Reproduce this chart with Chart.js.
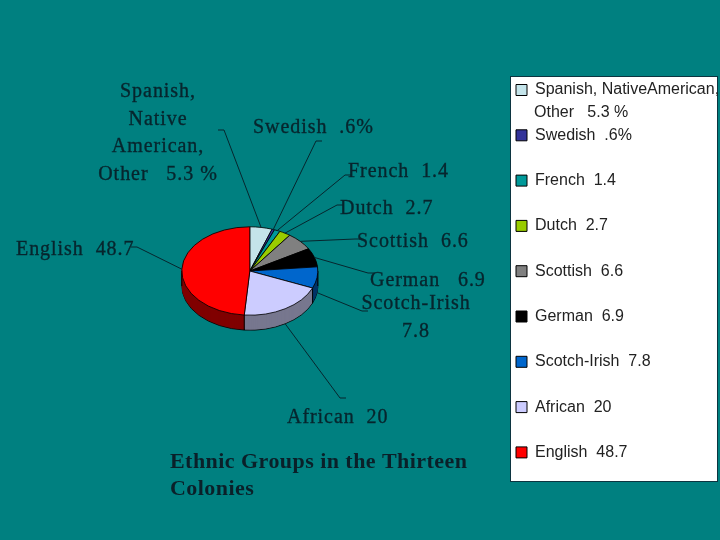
<!DOCTYPE html>
<html>
<head>
<meta charset="utf-8">
<title>Ethnic Groups in the Thirteen Colonies</title>
<script src="https://cdn.jsdelivr.net/npm/chart.js@4"></script>
<style>
  html, body { margin: 0; padding: 0; background: #008080; }
  canvas { display: block; }
</style>
</head>
<body>
<canvas id="myChart" width="720" height="540"></canvas>
<script>
// data
const categories = ['Spanish, NativeAmerican,', 'Swedish  .6%', 'French  1.4', 'Dutch  2.7', 'Scottish  6.6', 'German  6.9', 'Scotch-Irish  7.8', 'African  20', 'English  48.7'];
const legendExtraLine = 'Other   5.3 %';
const values = [5.3, 0.6, 1.4, 2.7, 6.6, 6.9, 7.8, 20, 48.7];
const colors = ['#c4e4ea', '#333399', '#009999', '#99cc00', '#808080', '#000000', '#0066cc', '#ccccff', '#ff0000'];
const sideColors = ['#62727a', '#1a1a4d', '#004d4d', '#4d6600', '#404040', '#000000', '#003366', '#77778f', '#800000'];

// callout texts: lines, x, first baseline, alignment, elbow point of the leader
const calloutLines = [['Spanish,', 'Native', 'American,', 'Other   5.3 %'], ['Swedish  .6%'], ['French  1.4'], ['Dutch  2.7'], ['Scottish  6.6'], ['German   6.9'], ['Scotch-Irish', '7.8'], ['African  20'], ['English  48.7']];
const calloutX = [158, 253, 348, 340, 357, 370, 416, 287, 16];
const calloutY = [97, 133, 177, 214, 247, 286, 309, 423, 255];
const calloutAlign = ['center', 'left', 'left', 'left', 'left', 'left', 'center', 'left', 'left'];
const leaderEnds = [[224, 130], [316, 141], [345, 175], [337, 205], [355, 239], [368, 273], [362, 311], [340, 398], [137, 247]];

const titleLines = ['Ethnic Groups in the Thirteen', 'Colonies'];

const squash = 0.65;
const depth = 15;
const inkColor = '#07252d';

const applySquash = (ctx, arc) => {
    ctx.translate(arc.x, arc.y);
    ctx.scale(1, squash);
    ctx.translate(-arc.x, -arc.y);
};

const pie3d = {
    id: 'pie3d',
    afterLayout(chart) {
        // pin the legend where the white panel is
        const legend = chart.legend;
        const pad = legend.options.labels.padding;
        legend.left = 516 - pad;
        legend.right = legend.left + legend.width;
        legend.top = 82 - pad;
        legend.bottom = legend.top + legend.height;
    },
    beforeDraw(chart) {
        const ctx = chart.ctx;
        ctx.save();
        ctx.fillStyle = '#ffffff';
        ctx.strokeStyle = '#0c3440';
        ctx.lineWidth = 1;
        ctx.fillRect(510, 76, 207, 405);
        ctx.strokeRect(510.5, 76.5, 207, 405);
        ctx.restore();
    },
    beforeDatasetsDraw(chart) {
        const ctx = chart.ctx;
        const arcs = chart.getDatasetMeta(0).data;
        const first = arcs[0];

        // side wall: same arcs stacked downwards in a darker colour
        ctx.save();
        applySquash(ctx, first);
        for (let d = depth; d > 0; d--) {
            ctx.save();
            ctx.translate(0, d / squash);
            arcs.forEach((arc, i) => {
                const saved = arc.options;
                arc.options = Object.assign({}, saved, {
                    backgroundColor: sideColors[i],
                    borderColor: d === depth ? '#000000' : sideColors[i],
                    borderWidth: d === depth ? 1 : 0.5
                });
                arc.draw(ctx);
                arc.options = saved;
            });
            ctx.restore();
        }
        ctx.restore();

        // vertical edges of the wall
        ctx.save();
        ctx.strokeStyle = '#000000';
        ctx.lineWidth = 1;
        arcs.forEach((arc) => {
            const sn = Math.sin(arc.startAngle);
            if (sn > 0) {
                const x = arc.x + arc.outerRadius * Math.cos(arc.startAngle);
                const y = arc.y + arc.outerRadius * squash * sn;
                ctx.beginPath();
                ctx.moveTo(x, y);
                ctx.lineTo(x, y + depth);
                ctx.stroke();
            }
        });
        [-1, 1].forEach((side) => {
            ctx.beginPath();
            ctx.moveTo(first.x + side * first.outerRadius, first.y);
            ctx.lineTo(first.x + side * first.outerRadius, first.y + depth);
            ctx.stroke();
        });
        ctx.restore();

        // the top face is drawn by Chart.js itself under this transform
        ctx.save();
        applySquash(ctx, first);
    },
    afterDatasetsDraw(chart) {
        const ctx = chart.ctx;
        ctx.restore();
        const arcs = chart.getDatasetMeta(0).data;

        // leader lines, from the rim of each slice to its label
        ctx.save();
        ctx.strokeStyle = inkColor;
        ctx.lineWidth = 1;
        arcs.forEach((arc, i) => {
            const mid = (arc.startAngle + arc.endAngle) / 2;
            const sx = arc.x + arc.outerRadius * Math.cos(mid);
            const sy = arc.y + arc.outerRadius * squash * Math.sin(mid) + (Math.sin(mid) > 0 ? depth : 0);
            const end = leaderEnds[i];
            ctx.beginPath();
            ctx.moveTo(sx, sy);
            ctx.lineTo(end[0], end[1]);
            ctx.lineTo(end[0] + (end[0] < sx ? -6 : 6), end[1]);
            ctx.stroke();
        });
        ctx.restore();

        // callout texts
        ctx.save();
        ctx.fillStyle = inkColor;
        ctx.strokeStyle = inkColor;
        ctx.lineWidth = 0.35;
        ctx.font = '20px "Liberation Serif"';
        ctx.letterSpacing = '0.95px';
        ctx.textBaseline = 'alphabetic';
        calloutLines.forEach((lines, i) => {
            ctx.textAlign = calloutAlign[i];
            lines.forEach((line, k) => {
                ctx.fillText(line, calloutX[i], calloutY[i] + k * 27.6);
                ctx.strokeText(line, calloutX[i], calloutY[i] + k * 27.6);
            });
        });
        ctx.restore();

        // second line of the first legend entry
        ctx.save();
        ctx.fillStyle = '#222222';
        ctx.font = '16px "Liberation Sans"';
        ctx.textBaseline = 'alphabetic';
        ctx.fillText(legendExtraLine, 534, 117);
        ctx.restore();

        // caption under the pie
        ctx.save();
        ctx.fillStyle = '#0a2029';
        ctx.font = 'bold 22px "Liberation Serif"';
        ctx.letterSpacing = '0.45px';
        titleLines.forEach((line, k) => {
            ctx.fillText(line, 170, 468 + k * 27);
        });
        ctx.restore();
    }
};

new Chart(document.getElementById('myChart'), {
    type: 'pie',
    data: {
        labels: categories,
        datasets: [{
            data: values,
            backgroundColor: colors,
            borderColor: '#000000',
            borderWidth: 1,
            radius: 68,
            clip: false
        }]
    },
    options: {
        responsive: false,
        animation: false,
        events: [],
        layout: { padding: { top: 2, left: 33, right: 11 } },
        plugins: {
            tooltip: { enabled: false },
            legend: {
                position: 'right',
                align: 'start',
                labels: {
                    boxWidth: 11,
                    boxHeight: 11,
                    padding: 29.3,
                    color: '#222222',
                    font: { family: '"Liberation Sans"', size: 16 }
                }
            }
        }
    },
    plugins: [pie3d]
});
</script>
</body>
</html>
